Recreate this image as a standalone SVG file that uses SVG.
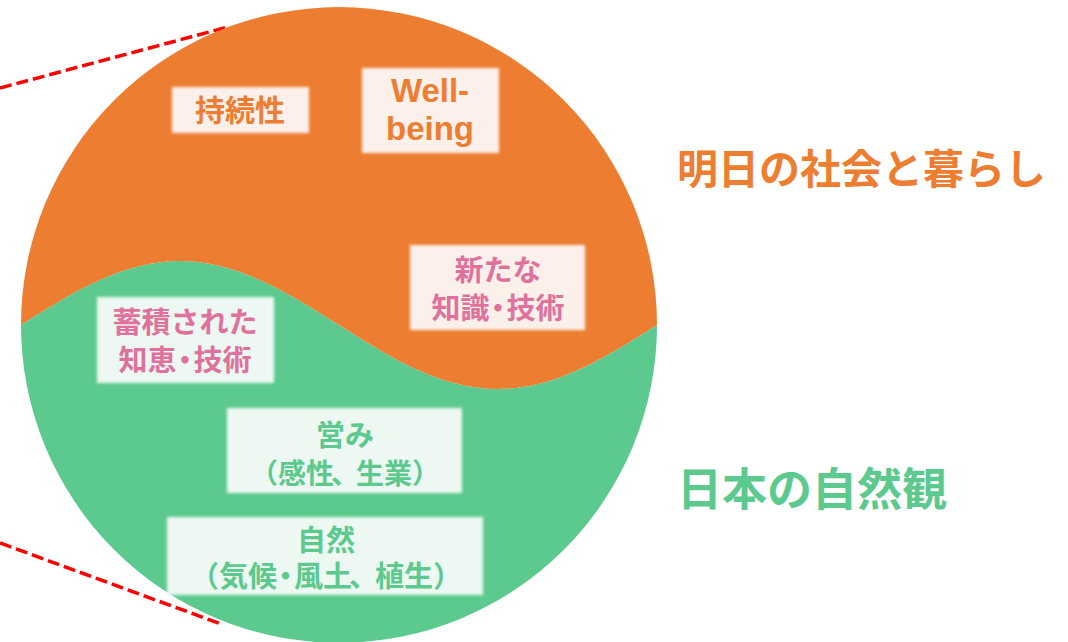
<svg xmlns="http://www.w3.org/2000/svg" width="1068" height="642" viewBox="0 0 1068 642">
  <defs>
    <filter id="soft" x="-10%" y="-20%" width="120%" height="140%">
      <feGaussianBlur stdDeviation="1.8"/>
    </filter>
    <style>
      .jp { font-family: "Noto Sans CJK JP", "Noto Sans", sans-serif; font-weight: 700; text-anchor: middle; }
      .en { font-family: "Liberation Sans", Arial, sans-serif; font-weight: 700; text-anchor: middle; }
      .or { fill: #ED7D31; }
      .gr { fill: #5CC98E; }
      .pk { fill: #E0709C; }
      .boxo { fill: #FBF0EA; filter: url(#soft); }
      .boxg { fill: #ECF8F1; filter: url(#soft); }
      .dash { stroke: #FF0000; stroke-width: 3.5; stroke-dasharray: 12 5; fill: none; }
    </style>
  </defs>
  <rect width="1068" height="642" fill="#FFFFFF"/>
  <g id="connectors">
    <line class="dash" x1="0" y1="88" x2="226" y2="27.5"/>
    <line class="dash" x1="0" y1="543" x2="221" y2="624"/>
  </g>
  <g id="circle">
    <path d="M21,325 C72.8,292.2 122.6,261 180,261 C237.3,261 287.1,292.2 339,325 C390.8,357.8 440.6,389 498,389 C555.3,389 605.1,357.8 657,325 A318,318 0 0 1 21,325 Z" fill="#5CC98E"/>
    <path d="M21,325 A318,318 0 0 1 657,325 C605.1,357.8 555.3,389 498,389 C440.6,389 390.8,357.8 339,325 C287.1,292.2 237.3,261 180,261 C122.6,261 72.8,292.2 21,325 Z" fill="#ED7D31"/>
  </g>
  <g id="node-jizokusei">
    <rect class="boxo" x="172" y="87" width="137" height="46"/>
    <text class="jp or" x="240" y="121" font-size="30">持続性</text>
  </g>
  <g id="node-wellbeing">
    <rect class="boxo" x="362" y="68" width="137" height="85"/>
    <text class="en or" x="430" y="102" font-size="33">Well-</text>
    <text class="en or" x="430" y="140" font-size="33">being</text>
  </g>
  <g id="node-aratana">
    <rect class="boxo" x="410" y="245" width="175" height="85"/>
    <text class="jp pk" x="498" y="281" font-size="29">新たな</text>
    <text class="jp pk" x="498" y="319" font-size="29">知識<tspan dx="-6">・</tspan><tspan dx="-6">技術</tspan></text>
  </g>
  <g id="node-chikuseki">
    <rect class="boxg" x="97" y="297" width="177" height="86"/>
    <text class="jp pk" x="185" y="333" font-size="29">蓄積された</text>
    <text class="jp pk" x="185" y="371" font-size="29">知恵<tspan dx="-6">・</tspan><tspan dx="-6">技術</tspan></text>
  </g>
  <g id="node-itonami">
    <rect class="boxg" x="227" y="408" width="235" height="85"/>
    <text class="jp gr" x="345" y="446" font-size="29">営み</text>
    <text class="jp gr" x="345" y="484" font-size="28">（感性<tspan dx="-3">、</tspan><tspan dx="-3">生業）</tspan></text>
  </g>
  <g id="node-shizen">
    <rect class="boxg" x="167" y="517" width="316" height="78"/>
    <text class="jp gr" x="326" y="551" font-size="29">自然</text>
    <text class="jp gr" x="326" y="587" font-size="29">（気候<tspan dx="-6">・</tspan><tspan dx="-6">風土</tspan><tspan dx="-3">、</tspan><tspan dx="-3">植生）</tspan></text>
  </g>
  <g id="label-ashita">
    <text class="jp or" x="677" y="184" font-size="41" style="text-anchor:start">明日の社会と暮らし</text>
  </g>
  <g id="label-shizenkan">
    <text class="jp gr" x="677" y="506" font-size="45" style="text-anchor:start">日本の自然観</text>
  </g>
</svg>
